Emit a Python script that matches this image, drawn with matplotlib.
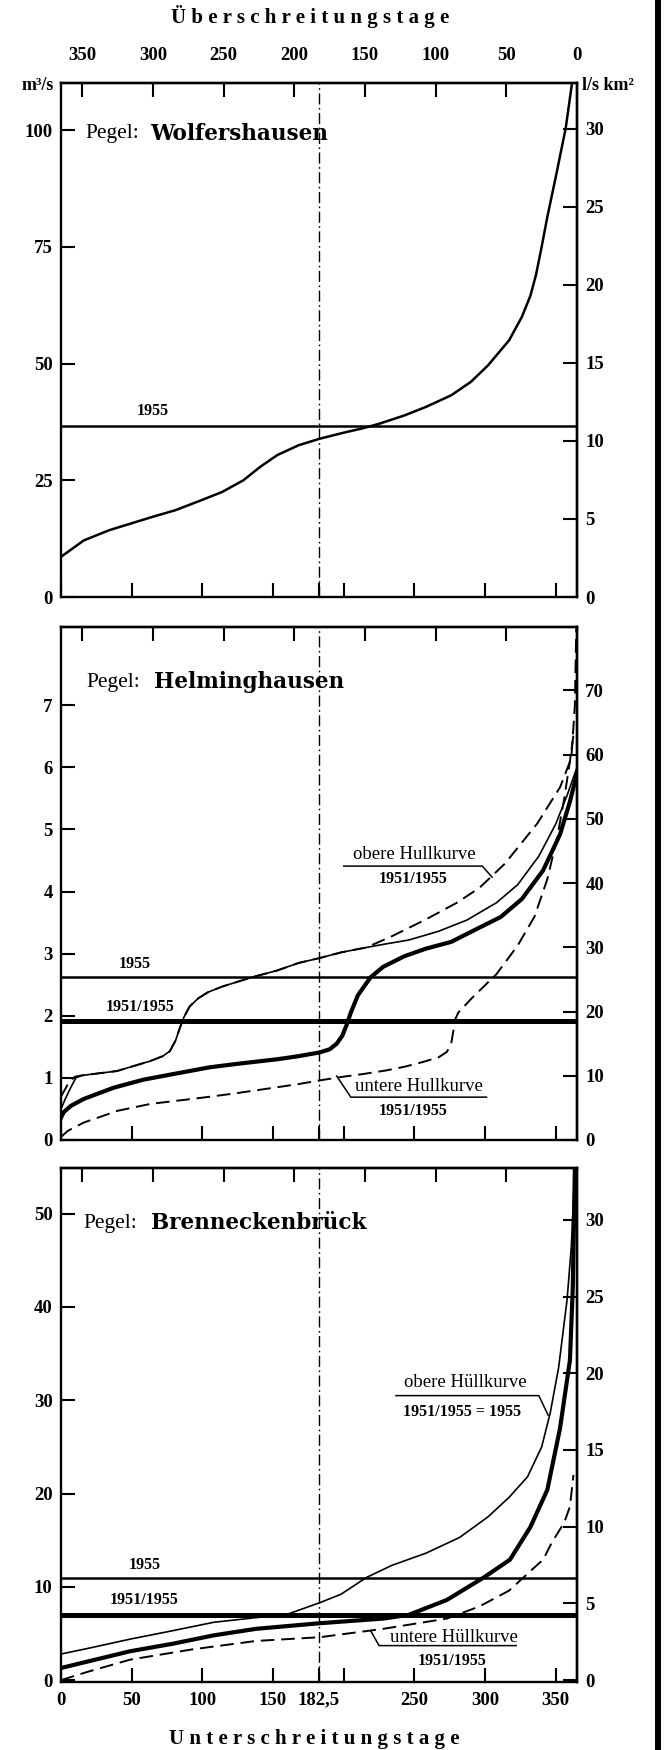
import matplotlib
matplotlib.use("Agg")
import matplotlib.pyplot as plt
from matplotlib.lines import Line2D

# Schrift: Serifen wie im Original
plt.rcParams['font.family'] = ['Liberation Serif', 'DejaVu Serif']

# ---------------------------------------------------------------
# Daten
# ---------------------------------------------------------------
unter_ticks = [0, 50, 100, 150, 182.5, 200, 250, 300, 350]
unter_labels = ['0', '50', '100', '150', '182,5', '', '250', '300', '350']
ueber_ticks = [0, 50, 100, 150, 200, 250, 300, 350]
ueber_labels = ['0', '50', '100', '150', '200', '250', '300', '350']

# Pegel Wolfershausen
wolf_tage = [0, 16, 34, 49, 64, 81, 99, 114, 129, 141, 153, 168, 183, 200, 213,
             225, 243, 258, 276, 290, 302, 317, 326, 332, 336, 340, 344, 350,
             357, 361.5]
wolf_q = [8.6, 12.1, 14.3, 15.7, 17.1, 18.6, 20.7, 22.5, 25.0, 27.9, 30.4, 32.5,
          33.9, 35.2, 36.1, 37.1, 38.9, 40.7, 43.2, 46.1, 49.6, 55.0, 60.0, 64.5,
          69.0, 75.0, 81.4, 90.0, 100.4, 110.1]
wolf_mq_1955 = 36.6
wolf_yticks = [0, 25, 50, 75, 100]
wolf_rticks = [0, 5, 10, 15, 20, 25, 30]
wolf_faktor = 0.299

# Pegel Helminghausen
helm_tage_1955 = [0, 3, 7, 10.5, 15, 39.5, 63, 72, 77, 81, 84, 87, 91, 97, 104,
                  114, 135, 153, 168, 183, 198, 216, 228, 246, 267, 287, 308, 323,
                  338, 350, 358, 365]
helm_q_1955 = [0.50, 0.66, 0.85, 1.00, 1.04, 1.11, 1.27, 1.35, 1.43, 1.60, 1.80,
               1.98, 2.15, 2.28, 2.38, 2.47, 2.62, 2.73, 2.85, 2.93, 3.02, 3.10,
               3.15, 3.22, 3.36, 3.54, 3.82, 4.11, 4.57, 5.09, 5.55, 6.0]
helm_tage_mittel = [0, 2, 7, 16, 37, 58, 79, 105, 126, 153, 168, 183, 190, 195,
                    199, 202, 205, 210, 219, 228, 243, 258, 276, 296, 311, 326,
                    341, 353, 360, 365]
helm_q_mittel = [0.36, 0.45, 0.55, 0.66, 0.84, 0.97, 1.06, 1.17, 1.23, 1.30, 1.35,
                 1.41, 1.46, 1.55, 1.68, 1.85, 2.05, 2.33, 2.62, 2.79, 2.96, 3.08,
                 3.19, 3.42, 3.59, 3.88, 4.34, 4.92, 5.45, 5.9]
helm_tage_oben = [0, 3, 6, 10, 15, 39.5, 63, 72, 77, 81, 84, 87, 91, 97, 104, 114,
                  135, 153, 168, 183, 198, 216, 234, 258, 280, 296, 314, 337, 353,
                  361, 363.5, 364.5]
helm_q_oben = [0.70, 0.82, 0.95, 1.02, 1.04, 1.11, 1.27, 1.35, 1.43, 1.60, 1.80,
               1.98, 2.15, 2.28, 2.38, 2.47, 2.62, 2.73, 2.85, 2.93, 3.02, 3.10,
               3.28, 3.55, 3.82, 4.06, 4.45, 5.10, 5.68, 6.15, 7.0, 8.26]
helm_tage_unten = [0, 5, 16, 40, 63, 103, 123, 150, 168, 183, 200, 213, 230, 243,
                   255, 267, 273, 276, 277.5, 279, 281, 290, 308, 323, 335, 344,
                   351, 356, 360, 363]
helm_q_unten = [0.05, 0.15, 0.28, 0.47, 0.58, 0.69, 0.75, 0.84, 0.90, 0.96, 1.02,
                1.06, 1.12, 1.18, 1.25, 1.33, 1.42, 1.55, 1.75, 1.95, 2.05, 2.27,
                2.67, 3.13, 3.60, 4.20, 4.87, 5.50, 6.10, 6.60]
helm_mq_1955 = 2.62
helm_mq_5155 = 1.92
helm_yticks = [0, 1, 2, 3, 4, 5, 6, 7]
helm_rticks = [0, 10, 20, 30, 40, 50, 60, 70]
helm_faktor = 9.67

# Pegel Brenneckenbrück
bren_tage_1955 = [0, 19, 49, 79, 108, 138, 159, 183, 198, 216, 234, 258, 282, 302,
                  317, 330, 340, 346, 352, 358, 361, 362.5, 363.5]
bren_q_1955 = [2.8, 3.4, 4.4, 5.3, 6.2, 6.7, 7.0, 8.3, 9.2, 11.0, 12.3, 13.6, 15.3,
               17.5, 19.6, 21.8, 25.0, 28.6, 33.5, 40.8, 46.5, 51.5, 54.9]
bren_tage_mittel = [0, 19, 49, 79, 108, 138, 183, 228, 246, 273, 299, 317.5, 332,
                    344, 353, 360, 362, 363.5]
bren_q_mittel = [1.3, 2.0, 3.1, 3.9, 4.8, 5.5, 6.1, 6.6, 7.0, 8.6, 11.0, 12.9, 16.4,
                 20.4, 27.0, 34.3, 42.0, 54.9]
bren_tage_unten = [0, 19, 49, 93, 138, 183, 228, 273, 296, 317, 335, 341, 347, 356,
                   360, 362.5]
bren_q_unten = [0.0, 0.9, 2.2, 3.3, 4.2, 4.6, 5.5, 6.6, 7.9, 9.6, 12.1, 12.9, 14.7,
                16.9, 18.6, 22.0]
bren_mq_1955 = 10.96
bren_mq_5155 = 7.0
bren_yticks = [0, 10, 20, 30, 40, 50]
bren_rticks = [0, 5, 10, 15, 20, 25, 30]
bren_faktor = 0.608

# ---------------------------------------------------------------
# Stile
# ---------------------------------------------------------------
TICK_FONT = dict(fontsize=13.5, fontweight='bold')
JAHR_FONT = dict(fontsize=11.5, fontweight='bold', ha='center', va='center')
HUELL_FONT = dict(fontsize=13.5, ha='center', va='center')
STRICHPUNKT = (8, 2.5, 1.2, 2.5)
GESTRICHELT = (7, 3.5)


def setup_panel(ax, ylim, yticks, faktor, rticks, top_labels=False, bottom_labels=False):
    ax.set_xlim(0, 365)
    ax.set_ylim(*ylim)
    for sp in ax.spines.values():
        sp.set_linewidth(1.7)

    # untere Achse (Unterschreitungstage)
    ax.set_xticks(unter_ticks)
    ax.set_xticklabels(unter_labels if bottom_labels else [''] * len(unter_ticks), **TICK_FONT)
    ax.tick_params(axis='x', direction='in', length=10, width=1.5, pad=7,
                   top=False, bottom=True)
    # linke Achse
    ax.set_yticks(yticks)
    ax.set_yticklabels([str(t) for t in yticks], **TICK_FONT)
    ax.tick_params(axis='y', direction='in', length=10, width=1.5, pad=6,
                   left=True, right=False)

    # obere Achse (Überschreitungstage)
    top = ax.secondary_xaxis('top', functions=(lambda x: 365 - x, lambda x: 365 - x))
    top.set_xticks(ueber_ticks)
    top.set_xticklabels(ueber_labels if top_labels else [''] * len(ueber_ticks), **TICK_FONT)
    top.tick_params(direction='in', length=10, width=1.5, pad=14)
    top.spines['top'].set_linewidth(1.7)

    # rechte Achse (Abflussspende)
    right = ax.secondary_yaxis('right', functions=(lambda q, f=faktor: q * f,
                                                   lambda r, f=faktor: r / f))
    right.set_yticks(rticks)
    right.set_yticklabels([str(t) for t in rticks], **TICK_FONT)
    right.tick_params(direction='in', length=10, width=1.5, pad=6)
    right.spines['right'].set_linewidth(1.7)

    ax.axvline(182.5, color='black', lw=1.0, dashes=STRICHPUNKT)


def pegel_name(ax, x_pegel, x_name, y, name):
    ax.text(x_pegel, y, 'Pegel:', fontsize=15.5, ha='left', va='center')
    ax.text(x_name, y, name, fontsize=15.5, fontweight='bold', family='DejaVu Serif',
            ha='left', va='center')


fig = plt.figure(figsize=(6.64, 17.5), dpi=100)

left, width = 61 / 664, 516 / 664
ax1 = fig.add_axes([left, 1 - 597 / 1750, width, 514 / 1750])
ax2 = fig.add_axes([left, 1 - 1140 / 1750, width, 513 / 1750])
ax3 = fig.add_axes([left, 1 - 1682 / 1750, width, 514 / 1750])

# --- Wolfershausen
setup_panel(ax1, (0, 110.1), wolf_yticks, wolf_faktor, wolf_rticks, top_labels=True)
ax1.plot(wolf_tage, wolf_q, color='black', lw=1.8)
ax1.axhline(wolf_mq_1955, color='black', lw=1.8)
ax1.text(65, 39.8, '1955', **JAHR_FONT)
pegel_name(ax1, 17, 63, 99.2, 'Wolfershausen')

# --- Helminghausen
setup_panel(ax2, (0, 8.26), helm_yticks, helm_faktor, helm_rticks)
ax2.plot(helm_tage_1955, helm_q_1955, color='black', lw=1.2)
ax2.plot(helm_tage_mittel, helm_q_mittel, color='black', lw=3.0)
ax2.plot(helm_tage_oben, helm_q_oben, color='black', lw=1.4, dashes=GESTRICHELT)
ax2.plot(helm_tage_unten, helm_q_unten, color='black', lw=1.4, dashes=GESTRICHELT)
ax2.axhline(helm_mq_1955, color='black', lw=1.8)
ax2.axhline(helm_mq_5155, color='black', lw=3.6)
ax2.text(52, 2.84, '1955', **JAHR_FONT)
ax2.text(56, 2.14, '1951/1955', **JAHR_FONT)
pegel_name(ax2, 18, 66, 7.37, 'Helminghausen')
ax2.text(250, 4.6, 'obere Hullkurve', **HUELL_FONT)
ax2.text(249, 4.2, '1951/1955', **JAHR_FONT)
ax2.plot([200, 298, 305], [4.41, 4.41, 4.23], color='black', lw=1.1)
ax2.text(253, 0.86, 'untere Hullkurve', **HUELL_FONT)
ax2.text(249, 0.46, '1951/1955', **JAHR_FONT)
ax2.plot([195, 205, 301], [1.03, 0.69, 0.69], color='black', lw=1.1)

# --- Brenneckenbrück
setup_panel(ax3, (-0.2, 54.9), bren_yticks, bren_faktor, bren_rticks, bottom_labels=True)
ax3.plot(bren_tage_1955, bren_q_1955, color='black', lw=1.2)
ax3.plot(bren_tage_mittel, bren_q_mittel, color='black', lw=3.0)
ax3.plot(bren_tage_unten, bren_q_unten, color='black', lw=1.4, dashes=GESTRICHELT)
ax3.axhline(bren_mq_1955, color='black', lw=1.8)
ax3.axhline(bren_mq_5155, color='black', lw=3.6)
ax3.text(59, 12.3, '1955', **JAHR_FONT)
ax3.text(59, 8.55, '1951/1955', **JAHR_FONT)
pegel_name(ax3, 16, 64, 49.0, 'Brenneckenbrück')
ax3.text(286, 31.9, 'obere Hüllkurve', **HUELL_FONT)
ax3.text(284, 28.7, '1951/1955 = 1955', **JAHR_FONT)
ax3.plot([237, 338, 344.6], [30.5, 30.5, 28.4], color='black', lw=1.1)
ax3.text(278, 4.6, 'untere Hüllkurve', **HUELL_FONT)
ax3.text(277, 2.0, '1951/1955', **JAHR_FONT)
ax3.plot([219, 225, 322], [5.3, 3.7, 3.7], color='black', lw=1.1)

# Achsentitel und Einheiten
fig.text(310 / 664, 1 - 17 / 1750, 'Ü b e r s c h r e i t u n g s t a g e',
         fontsize=15, fontweight='bold', ha='center', va='center')
fig.text(314 / 664, 1 - 1739 / 1750, 'U n t e r s c h r e i t u n g s t a g e',
         fontsize=15, fontweight='bold', ha='center', va='center')
fig.text(54 / 664, 1 - 86 / 1750, 'm³/s', fontsize=13, fontweight='bold',
         ha='right', va='center')
fig.text(582 / 664, 1 - 86 / 1750, 'l/s km²', fontsize=13, fontweight='bold',
         ha='left', va='center')

# Rand der Vorlage (Scan-Kante rechts)
fig.add_artist(Line2D([658 / 664, 658 / 664], [0, 1], color='black', lw=4.3,
                      transform=fig.transFigure))

fig.savefig('out.png', dpi=100)
